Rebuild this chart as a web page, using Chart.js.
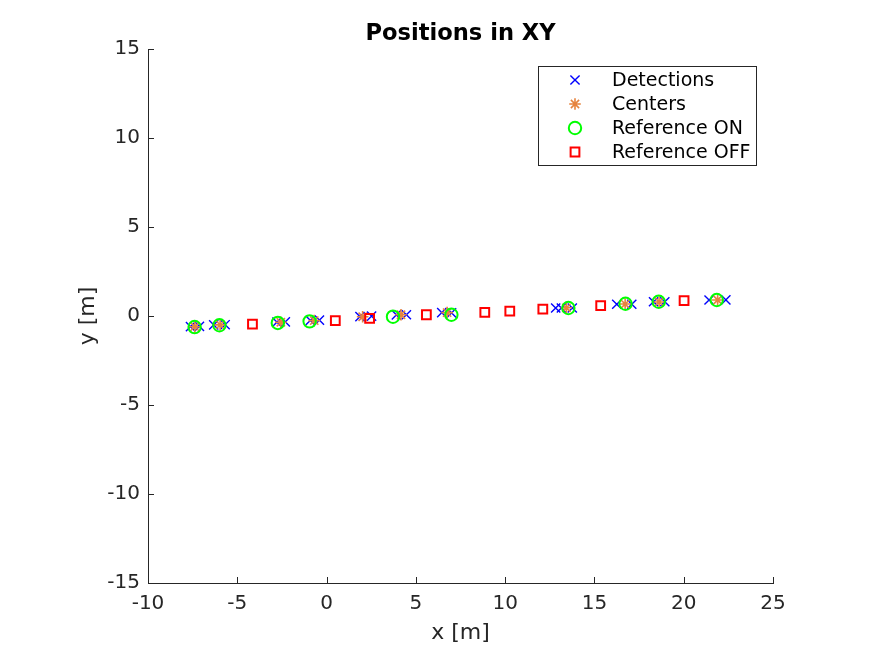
<!DOCTYPE html>
<html>
<head>
<meta charset="utf-8">
<script src="https://cdn.jsdelivr.net/npm/chart.js@4.4.1/dist/chart.umd.min.js"></script>
<style>
html,body{margin:0;padding:0;background:#fff;}
canvas{display:block;}
</style>
</head>
<body>
<canvas id="c" width="891" height="656"></canvas>
<script>
// ---- data ----
const titleText = 'Positions in XY';
const xLabel = 'x [m]';
const yLabel = 'y [m]';
const seriesNames = ['Detections', 'Centers', 'Reference ON', 'Reference OFF'];

const detX = [-7.62, -7.12, -6.32, -5.68, -2.78, -2.31, -0.91, -0.40, 1.87, 2.52, 3.91, 4.47, 6.45, 7.00, 12.83, 13.15, 13.76, 16.25, 17.09, 18.31, 18.94, 21.42, 22.36];
const detY = [-0.60, -0.58, -0.50, -0.49, -0.34, -0.33, -0.25, -0.23, -0.03, -0.01, 0.06, 0.07, 0.19, 0.18, 0.45, 0.45, 0.45, 0.66, 0.66, 0.80, 0.80, 0.90, 0.91];

const cenX = [-7.38, -5.96, -2.56, -0.69, 2.02, 4.17, 6.75, 13.43, 16.72, 18.62, 21.90];
const cenY = [-0.60, -0.50, -0.35, -0.26, -0.04, 0.07, 0.19, 0.46, 0.67, 0.79, 0.90];

const onX = [-7.39, -6.00, -2.73, -0.95, 3.72, 6.99, 13.54, 16.74, 18.60, 21.85];
const onY = [-0.62, -0.52, -0.39, -0.30, -0.04, 0.07, 0.45, 0.69, 0.80, 0.90];

const offX = [-4.15, 0.49, 2.41, 5.59, 8.86, 10.26, 12.11, 15.35, 20.02];
const offY = [-0.45, -0.26, -0.13, 0.07, 0.21, 0.28, 0.39, 0.58, 0.86];

const xMin = -10, xMax = 25, xStep = 5;
const yMin = -15, yMax = 15, yStep = 5;

// ---- build ----
const pts = (xs, ys) => xs.map((x, i) => ({x: x, y: ys[i]}));
const axisColor = '#262626';
const fam = '"DejaVu Sans", "Liberation Sans", sans-serif';

const styles = [
  {color: '#0000FF', pointStyle: 'crossRot', radius: 6.5, bw: 1.4, order: 4},
  {color: '#E6843F', pointStyle: 'star', radius: 5.8, bw: 1.6, order: 3},
  {color: '#00FF00', pointStyle: 'circle', radius: 6.2, bw: 2, order: 2},
  {color: '#FF0000', pointStyle: 'rect', radius: 6.2, bw: 2, order: 1}
];
const allData = [pts(detX, detY), pts(cenX, cenY), pts(onX, onY), pts(offX, offY)];

const datasets = allData.map((d, i) => ({
  label: seriesNames[i],
  data: d,
  showLine: false,
  order: styles[i].order,
  pointStyle: styles[i].pointStyle,
  pointRadius: styles[i].radius,
  pointHoverRadius: styles[i].radius,
  pointBorderWidth: styles[i].bw,
  pointHoverBorderWidth: styles[i].bw,
  borderColor: styles[i].color,
  backgroundColor: 'rgba(0,0,0,0)',
  pointBackgroundColor: 'rgba(0,0,0,0)'
}));

const decor = {
  id: 'decor',
  afterDraw(chart) {
    const ctx = chart.ctx;
    const a = chart.chartArea;
    const xs = chart.scales.x, ys = chart.scales.y;
    ctx.save();
    // inward ticks
    ctx.strokeStyle = axisColor;
    ctx.lineWidth = 1;
    ctx.beginPath();
    xs.ticks.forEach(t => {
      const px = Math.round(xs.getPixelForValue(t.value)) + 0.5;
      ctx.moveTo(px, a.bottom);
      ctx.lineTo(px, a.bottom - 6);
    });
    ys.ticks.forEach(t => {
      const py = Math.round(ys.getPixelForValue(t.value)) + 0.5;
      ctx.moveTo(a.left, py);
      ctx.lineTo(a.left + 6, py);
    });
    ctx.stroke();

    // title
    const cx = (a.left + a.right) / 2;
    ctx.fillStyle = '#000';
    ctx.font = 'bold 22.6px ' + fam;
    ctx.textAlign = 'center';
    ctx.textBaseline = 'alphabetic';
    ctx.fillText(titleText, cx, 40);

    // axis labels
    ctx.fillStyle = axisColor;
    ctx.font = '22px ' + fam;
    ctx.textBaseline = 'middle';
    ctx.fillText(xLabel, cx, 633);
    ctx.save();
    ctx.translate(88, (a.top + a.bottom) / 2);
    ctx.rotate(-Math.PI / 2);
    ctx.fillText(yLabel, 0, 0);
    ctx.restore();

    // legend
    const bx = 538.5, by = 66.5, bw = 218, bh = 99;
    ctx.fillStyle = '#fff';
    ctx.fillRect(bx, by, bw, bh);
    ctx.strokeStyle = '#262626';
    ctx.lineWidth = 1;
    ctx.strokeRect(bx, by, bw, bh);
    const rowY = [80, 104, 128, 152];
    seriesNames.forEach((name, i) => {
      const s = styles[i];
      ctx.save();
      ctx.strokeStyle = s.color;
      ctx.fillStyle = 'rgba(0,0,0,0)';
      ctx.lineWidth = s.bw;
      Chart.helpers.drawPoint(ctx, {pointStyle: s.pointStyle, radius: s.radius, borderWidth: s.bw, rotation: 0}, 575, rowY[i]);
      ctx.restore();
      ctx.fillStyle = '#000';
      ctx.font = '19px ' + fam;
      ctx.textAlign = 'left';
      ctx.textBaseline = 'middle';
      ctx.fillText(name, 612, rowY[i] + 1);
    });
    ctx.restore();
  }
};

new Chart(document.getElementById('c'), {
  type: 'scatter',
  data: {datasets: datasets},
  options: {
    responsive: false,
    animation: false,
    devicePixelRatio: 1,
    layout: {padding: {left: 0, top: 49, right: 118, bottom: 0}},
    plugins: {legend: {display: false}, title: {display: false}, tooltip: {enabled: false}},
    scales: {
      x: {
        type: 'linear', min: xMin, max: xMax,
        ticks: {stepSize: xStep, color: axisColor, font: {family: fam, size: 20}, padding: 9, maxRotation: 0, autoSkip: false},
        grid: {display: true, drawOnChartArea: false, drawTicks: false},
        border: {display: true, color: axisColor, width: 1},
        afterFit: s => { s.height = 73; }
      },
      y: {
        type: 'linear', min: yMin, max: yMax,
        ticks: {stepSize: yStep, color: axisColor, font: {family: fam, size: 20}, padding: 8, autoSkip: false},
        grid: {display: true, drawOnChartArea: false, drawTicks: false},
        border: {display: true, color: axisColor, width: 1},
        afterFit: s => { s.width = 148; }
      }
    }
  },
  plugins: [decor]
});
</script>
</body>
</html>
